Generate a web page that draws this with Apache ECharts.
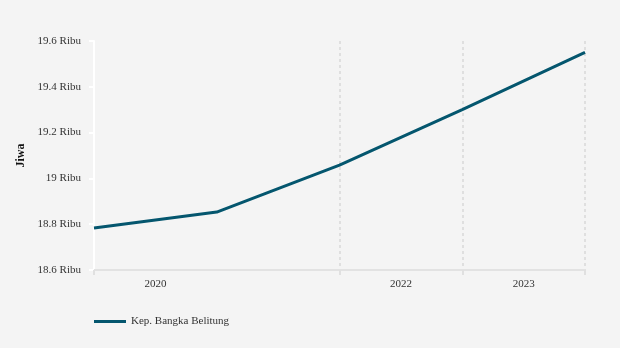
<!DOCTYPE html>
<html>
<head>
<meta charset="utf-8">
<style>
  html, body { margin: 0; padding: 0; background: #f4f4f4; }
  #chart { width: 620px; height: 348px; }
</style>
<script src="https://cdn.jsdelivr.net/npm/echarts@6/dist/echarts.min.js"></script>
</head>
<body>
<div id="chart"></div>
<script>
// Population series (jiwa) along a continuous x position
const xPositions = [0, 1, 2, 3, 4];
const population = [18783, 18853, 19058, 19300, 19550];
const seriesName = 'Kep. Bangka Belitung';

// Year labels sit between tick marks
const yearTickValues = [0, 2, 3, 4];
const yearLabelValues = [0.5, 2.5, 3.5];
const yearLabels = ['2020', '2022', '2023'];

const yMin = 18600, yMax = 19600, yStep = 200;

const font = '"Liberation Serif", "Times New Roman", serif';
const lineColor = '#04566e';

const chart = echarts.init(document.getElementById('chart'), null, { renderer: 'canvas' });

chart.setOption({
  backgroundColor: '#f4f4f4',
  animation: false,
  textStyle: { fontFamily: font },
  grid: { left: 94, right: 35, top: 41, bottom: 78 },
  legend: {
    left: 89,
    top: 311,
    itemWidth: 32,
    itemHeight: 14,
    icon: 'path://M0,0 L32,0 L32,3 L0,3 Z',
    textStyle: { fontFamily: font, fontSize: 11, color: '#333' },
    data: [seriesName]
  },
  xAxis: {
    type: 'value',
    min: 0,
    max: 4,
    axisLine: { show: true, lineStyle: { color: '#e2e2e2', width: 2 } },
    axisTick: {
      show: true,
      length: 5,
      lineStyle: { color: '#e0e0e0', width: 2 },
      customValues: yearTickValues
    },
    axisLabel: {
      customValues: yearLabelValues,
      margin: 9,
      fontFamily: font,
      fontSize: 11,
      color: '#333',
      formatter: function (v) {
        const i = yearLabelValues.indexOf(v);
        return i >= 0 ? yearLabels[i] : '';
      }
    },
    splitLine: {
      show: true,
      lineStyle: { color: '#d8d8d8', type: [3, 3], width: 1.5 }
    }
  },
  yAxis: {
    type: 'value',
    min: yMin,
    max: yMax,
    interval: yStep,
    name: 'Jiwa',
    nameLocation: 'middle',
    nameGap: 61,
    nameRotate: 90,
    nameTextStyle: { fontFamily: font, fontSize: 12, fontWeight: 'bold', color: '#111' },
    axisLine: { show: true, lineStyle: { color: '#ffffff', width: 2 }, z: 0 },
    axisTick: { show: true, length: 5, lineStyle: { color: '#ffffff', width: 2 } },
    axisLabel: {
      margin: 13,
      fontFamily: font,
      fontSize: 11,
      color: '#333',
      formatter: function (v) { return (v / 1000) + ' Ribu'; }
    },
    splitLine: { show: false }
  },
  series: [{
    name: seriesName,
    type: 'line',
    data: xPositions.map((x, i) => [x, population[i]]),
    symbol: 'none',
    lineStyle: { color: lineColor, width: 3 },
    itemStyle: { color: lineColor }
  }]
});
</script>
</body>
</html>
